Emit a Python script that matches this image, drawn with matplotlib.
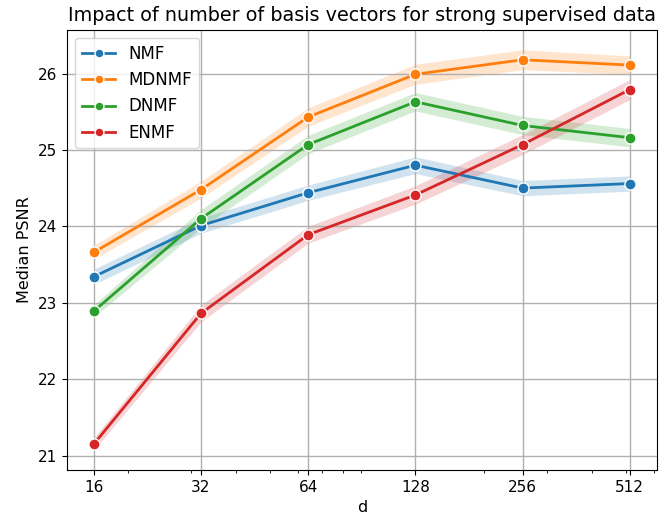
import matplotlib
matplotlib.use("Agg")
import matplotlib.pyplot as plt
from matplotlib.ticker import ScalarFormatter, NullFormatter

# number of basis vectors
d = [16, 32, 64, 128, 256, 512]

# median PSNR per method
nmf = [23.34, 24.01, 24.44, 24.80, 24.50, 24.56]
mdnmf = [23.66, 24.48, 25.43, 25.99, 26.18, 26.11]
dnmf = [22.89, 24.10, 25.07, 25.63, 25.32, 25.16]
enmf = [21.15, 22.86, 23.89, 24.41, 25.07, 25.79]

# half width of the shaded confidence band
nmf_ci = [0.10, 0.10, 0.10, 0.11, 0.10, 0.10]
mdnmf_ci = [0.09, 0.11, 0.12, 0.13, 0.13, 0.12]
dnmf_ci = [0.08, 0.12, 0.12, 0.12, 0.12, 0.12]
enmf_ci = [0.08, 0.11, 0.11, 0.12, 0.13, 0.13]

methods = ["NMF", "MDNMF", "DNMF", "ENMF"]
series = [nmf, mdnmf, dnmf, enmf]
bands = [nmf_ci, mdnmf_ci, dnmf_ci, enmf_ci]
colors = ["tab:blue", "tab:orange", "tab:green", "tab:red"]

fig, ax = plt.subplots(figsize=(6.7, 5.23), dpi=100)

for name, ys, ci, c in zip(methods, series, bands, colors):
    lo = [y - e for y, e in zip(ys, ci)]
    hi = [y + e for y, e in zip(ys, ci)]
    ax.fill_between(d, lo, hi, color=c, alpha=0.2, linewidth=0)
    ax.plot(d, ys, color=c, linewidth=2, marker="o", markersize=8,
            markeredgecolor="white", markeredgewidth=1, label=name)

ax.set_xscale("log")
ax.set_xticks(d)
ax.xaxis.set_major_formatter(ScalarFormatter())
ax.xaxis.set_minor_formatter(NullFormatter())
ax.set_yticks([21, 22, 23, 24, 25, 26])
ax.tick_params(labelsize=11)
ax.grid(True, which="major", color="#b0b0b0", linewidth=1)

ax.set_xlabel("d", fontsize=11.5)
ax.set_ylabel("Median PSNR", fontsize=11.5)
ax.set_title("Impact of number of basis vectors for strong supervised data", fontsize=13.8)
ax.legend(loc="upper left", fontsize=12, markerscale=0.8)

fig.subplots_adjust(left=0.1, right=0.98, top=0.943, bottom=0.101)
fig.savefig("out.png", dpi=100)
